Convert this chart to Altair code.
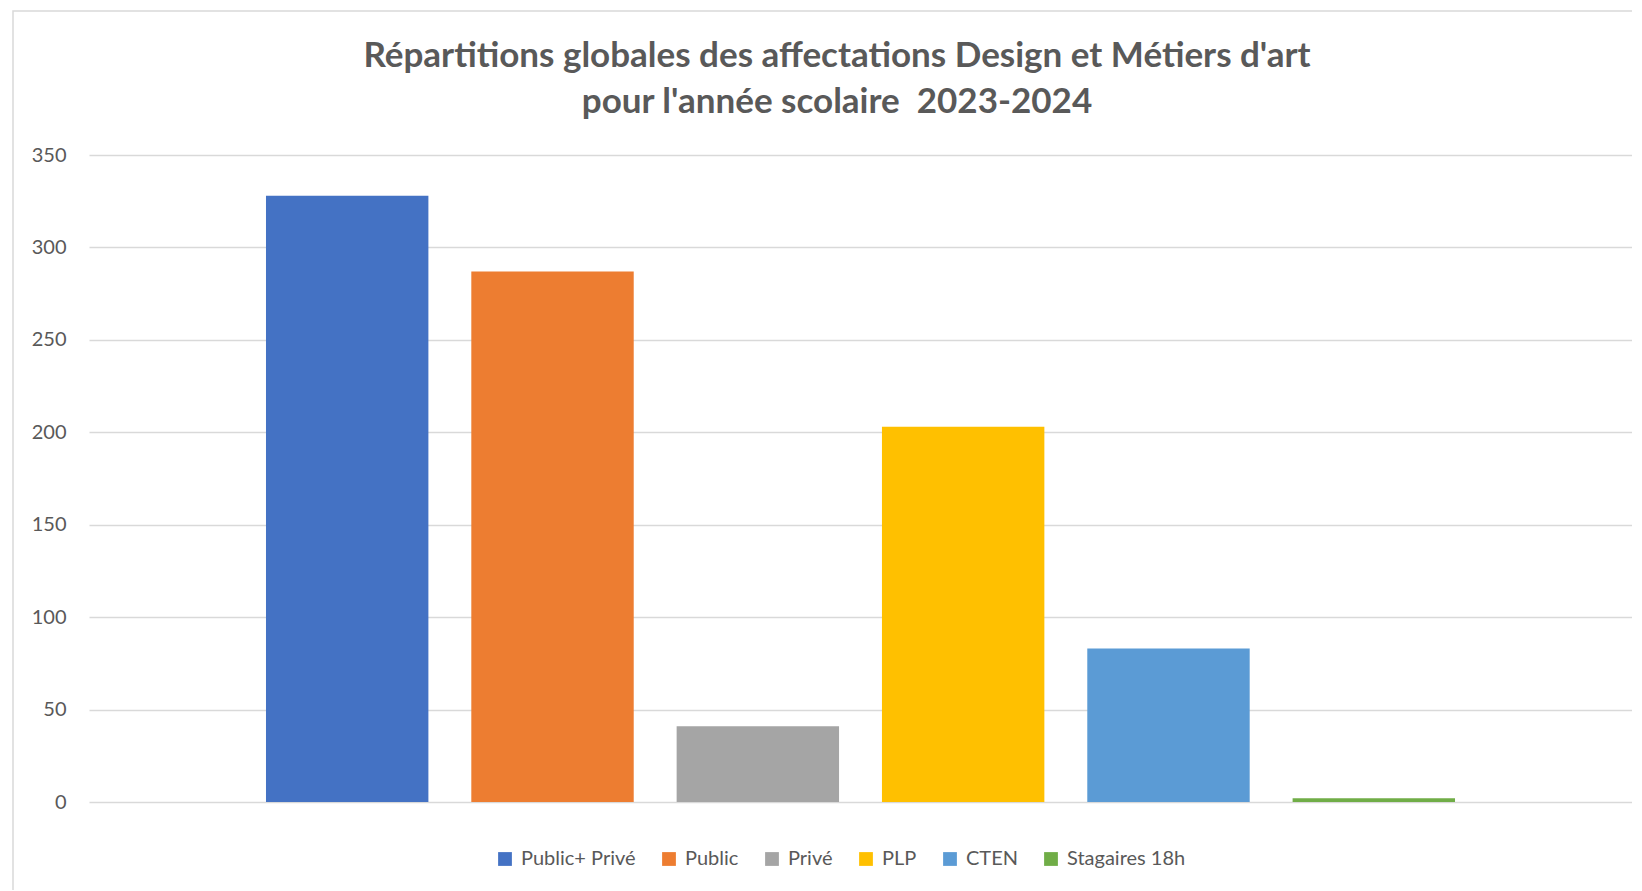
import altair as alt
import pandas as pd

categories = ["Public+ Privé", "Public", "Privé", "PLP", "CTEN", "Stagaires 18h"]
values = [328, 287, 41, 203, 83, 2]
colors = ["#4472C4", "#ED7D31", "#A5A5A5", "#FFC000", "#5B9BD5", "#70AD47"]
y_ticks = [0, 50, 100, 150, 200, 250, 300, 350]
title_lines = ["Répartitions globales des affectations Design et Métiers d'art",
               "pour l'année scolaire \u00a02023-2024"]

df = pd.DataFrame({"serie": categories, "valeur": values})

FONT = "Lato"
GREY = "#595959"

bars = alt.Chart(df).mark_bar().encode(
    x=alt.X("serie:N", sort=categories,
            scale=alt.Scale(paddingInner=0.209, paddingOuter=0.862),
            axis=alt.Axis(title=None, labels=False, ticks=False, domain=False, grid=False)),
    y=alt.Y("valeur:Q", scale=alt.Scale(domain=[0, 350], nice=False),
            axis=alt.Axis(title=None, values=y_ticks, grid=True, gridColor="#D9D9D9",
                          gridWidth=1.3, domain=False, ticks=False, labelPadding=23,
                          labelFont=FONT, labelFontSize=20, labelColor=GREY)),
    color=alt.Color("serie:N", sort=categories,
                    scale=alt.Scale(domain=categories, range=colors),
                    legend=alt.Legend(title=None, orient="none", direction="horizontal",
                                      legendX=406, legendY=694, columns=6,
                                      symbolType="square", symbolSize=190,
                                      symbolStrokeWidth=0, labelFont=FONT,
                                      labelFontSize=20, labelColor=GREY,
                                      labelOffset=6, columnPadding=23)),
)

# decorative chart-area frame (Excel chart border)
frame = alt.Chart(pd.DataFrame({"f": [0]})).mark_rect(
    fill="transparent", stroke="#D9D9D9", strokeWidth=1.5
).encode(
    x=alt.value(-76), x2=alt.value(1700),
    y=alt.value(-144), y2=alt.value(900),
)

# chart title, two centred lines
title1 = alt.Chart(pd.DataFrame({"t": [title_lines[0]]})).mark_text(
    font=FONT, fontSize=35, fontWeight="bold", color=GREY,
    align="center", baseline="alphabetic"
).encode(text="t:N", x=alt.value(748), y=alt.value(-88))
title2 = alt.Chart(pd.DataFrame({"t": [title_lines[1]]})).mark_text(
    font=FONT, fontSize=35, fontWeight="bold", color=GREY,
    align="center", baseline="alphabetic"
).encode(text="t:N", x=alt.value(748), y=alt.value(-42))

chart = alt.layer(frame, bars, title1, title2).properties(
    width=1543,
    height=647,
    autosize=alt.AutoSizeParams(type="none"),
    padding={"left": 81, "top": 147, "right": 0, "bottom": 88},
).configure(background="white").configure_view(stroke="transparent", strokeWidth=0)

chart.save("out.html", embed_options={"renderer": "svg", "actions": False})
